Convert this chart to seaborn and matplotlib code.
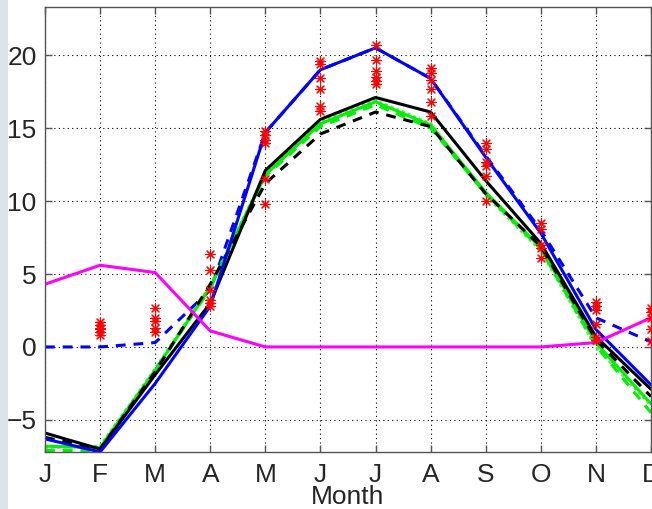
import numpy as np
import pandas as pd
import matplotlib
matplotlib.use("Agg")
import matplotlib.pyplot as plt
from matplotlib.patches import Rectangle
import seaborn as sns

months = list(range(1, 13))
month_labels = ["J", "F", "M", "A", "M", "J", "J", "A", "S", "O", "N", "D"]

blue_solid = [-6.3, -7.2, -2.5, 2.8, 14.7, 19.0, 20.5, 18.4, 13.0, 7.8, 1.2, -2.6]
blue_dashed = [0.0, 0.0, 0.3, 3.9, 14.7, 19.0, 20.5, 18.4, 13.1, 8.0, 2.0, 0.35]
black_solid = [-5.9, -7.0, -1.9, 3.0, 12.1, 15.6, 17.1, 16.1, 11.4, 7.1, 0.7, -2.9]
black_dashed = [-6.2, -7.0, -1.7, 4.3, 11.2, 14.6, 16.1, 15.1, 10.5, 6.9, 0.5, -3.4]
green_solid = [-6.8, -6.9, -1.6, 4.1, 11.8, 15.3, 16.8, 15.2, 10.6, 6.8, 0.3, -3.9]
green_dashed = [-7.1, -7.1, -1.6, 4.0, 11.7, 15.1, 16.6, 15.0, 10.5, 6.7, 0.1, -4.5]
green_dotted = [-6.9, -6.8, -1.5, 4.2, 11.9, 15.4, 16.9, 15.3, 10.4, 6.6, 0.0, -4.0]
magenta = [4.3, 5.6, 5.1, 1.1, 0.0, 0.0, 0.0, 0.0, 0.0, 0.0, 0.3, 2.0]

obs_month = ([2] * 6 + [3] * 5 + [4] * 6 + [5] * 6 + [6] * 6 + [7] * 6 +
             [8] * 6 + [9] * 6 + [10] * 5 + [11] * 6 + [12] * 5)
obs_value = [1.7, 1.5, 1.3, 1.2, 1.0, 0.85,
             2.65, 2.0, 1.75, 1.3, 1.05,
             6.35, 5.25, 3.9, 3.2, 3.0, 2.8,
             14.8, 14.5, 14.2, 14.0, 11.5, 9.8,
             19.6, 19.4, 18.4, 17.7, 16.5, 16.2,
             20.7, 19.7, 18.9, 18.5, 18.2, 18.0,
             19.1, 18.8, 18.3, 17.7, 16.8, 15.8,
             14.0, 13.6, 12.7, 12.4, 11.7, 10.0,
             8.5, 8.1, 7.0, 6.8, 6.1,
             3.1, 2.8, 2.5, 1.6, 0.7, 0.5,
             2.7, 2.4, 2.0, 1.2, 0.4]

sns.set_style("white")
plt.rcParams["font.family"] = ["Liberation Sans", "DejaVu Sans"]

fig = plt.figure(figsize=(6.52, 5.09), dpi=100)
fig.patches.append(Rectangle((0, 0), 7.5 / 652, 1, transform=fig.transFigure,
                             facecolor="#dce3ea", edgecolor="none", zorder=-10))
ax = fig.add_axes([45 / 652, 1 - 452 / 509, 606 / 652, 445 / 509])

lw = 2.2
sns.lineplot(x=months, y=blue_dashed, ax=ax, color="#0000ff", lw=lw, dashes=(3.2, 2.6))
sns.lineplot(x=months, y=green_dotted, ax=ax, color="#55ee55", lw=lw, linestyle=(0, (1, 1)))
sns.lineplot(x=months, y=green_dashed, ax=ax, color="#00ee00", lw=lw, dashes=(3.2, 2.6))
sns.lineplot(x=months, y=green_solid, ax=ax, color="#00ee00", lw=lw)
sns.lineplot(x=months, y=black_dashed, ax=ax, color="black", lw=lw, dashes=(3.2, 2.6))
sns.lineplot(x=months, y=black_solid, ax=ax, color="black", lw=lw)
sns.lineplot(x=months, y=blue_solid, ax=ax, color="#0000ff", lw=lw)
sns.lineplot(x=months, y=magenta, ax=ax, color="#ff00ff", lw=lw)
sns.scatterplot(x=obs_month, y=obs_value, ax=ax, marker=(8, 2, 0), s=50,
                color="red", edgecolor="red", linewidth=0.8, zorder=5, clip_on=False)

fs = 19
ax.set_xlim(1, 12)
ax.set_ylim(-7.2, 23.3)
ax.set_xticks(months)
ax.set_xticklabels(month_labels)
ax.set_yticks([-5, 0, 5, 10, 15, 20])
ax.set_xlabel("Month", fontsize=fs, labelpad=-1.5)
ax.set_ylabel("")
ax.tick_params(axis="x", pad=8)
ax.tick_params(axis="y", pad=6)
ax.tick_params(axis="both", which="both", direction="in", length=5, width=1,
               color="#555555", labelsize=fs,
               top=True, right=True, bottom=True, left=True)
ax.grid(True, color="black", linestyle=(0, (1, 3)), linewidth=0.8)
for s in ax.spines.values():
    s.set_color("#555555")
    s.set_linewidth(1)
    s.set_visible(True)
ax.set_facecolor("white")

fig.savefig("out.png", dpi=100)
